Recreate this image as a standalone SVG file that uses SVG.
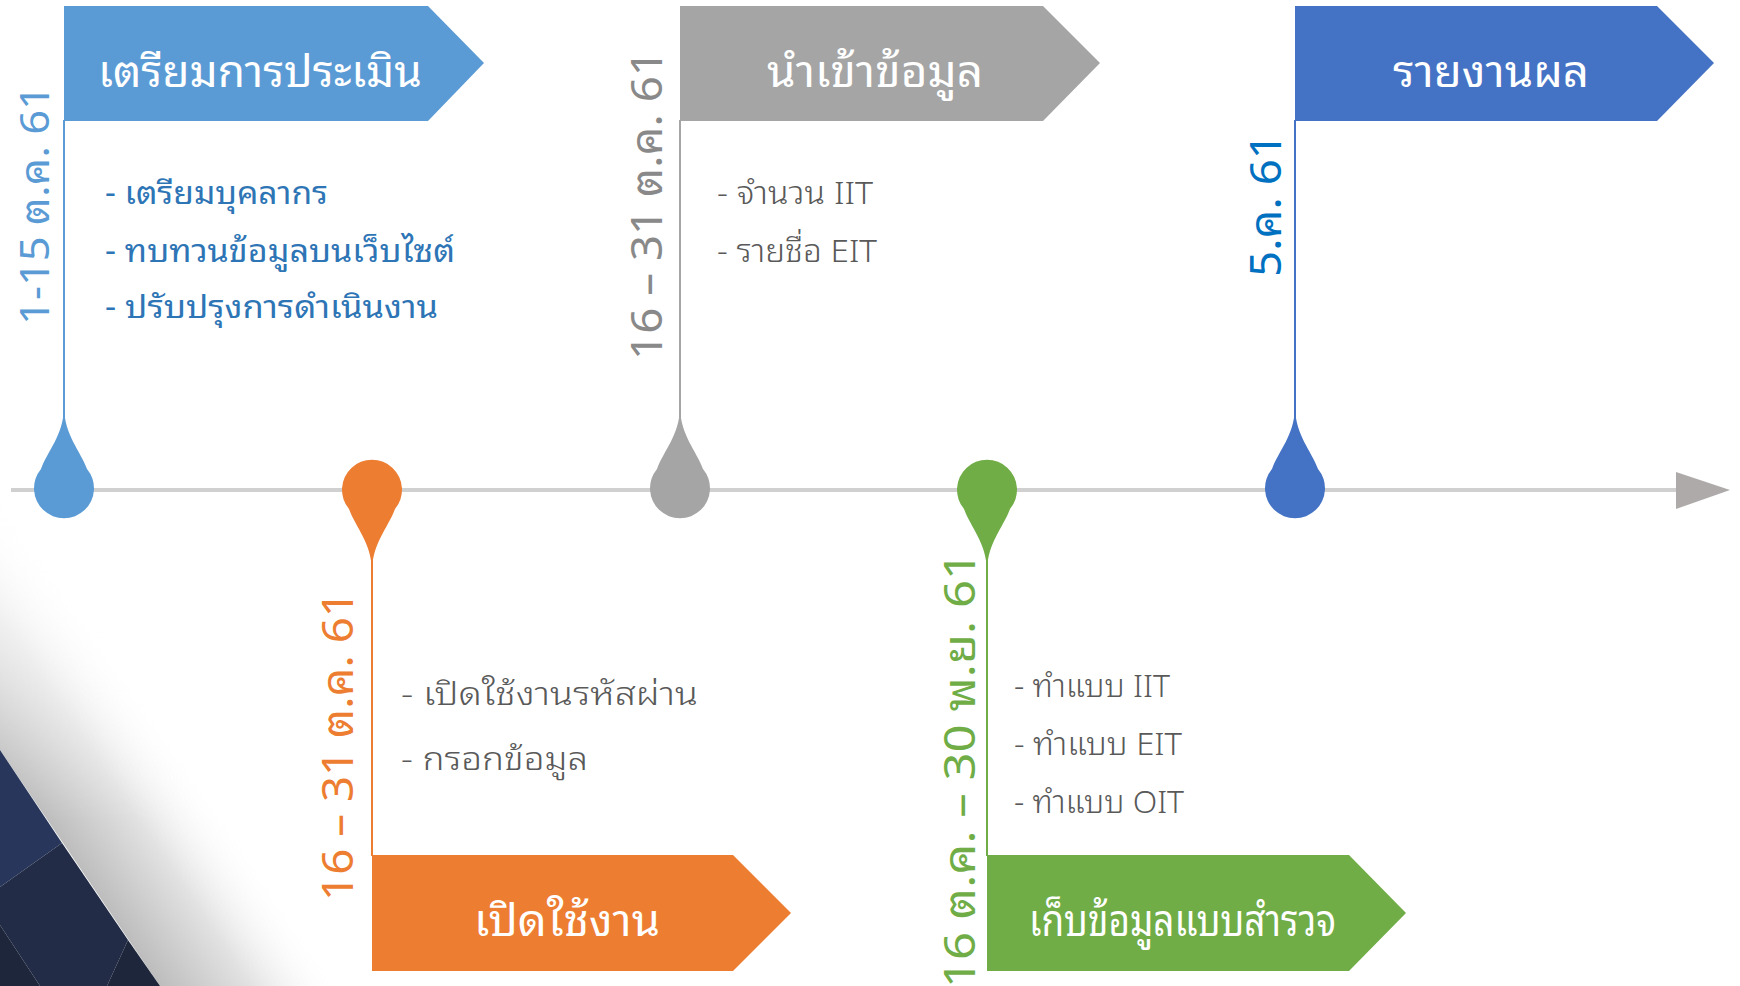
<svg xmlns="http://www.w3.org/2000/svg" width="1740" height="986" viewBox="0 0 1740 986">
<style>
text{font-family:'Noto Sans Thai Looped','Loma','Garuda','Noto Sans Thai','Noto Sans','DejaVu Sans',sans-serif;}
.title{fill:#fff;font-size:44px;}
.bul{font-size:32px;}
.light{font-weight:300;}
.date{font-size:44px;}
.vline{stroke-width:2;fill:none;}
</style>
<defs>
<path id="drop" d="M0,-80 C1,-52 16,-38 23,-19 A30 30 0 1 1 -23,-19 C-16,-38 -1,-52 0,-80 Z"/>
<linearGradient id="shadow" gradientUnits="userSpaceOnUse" x1="80" y1="868" x2="205" y2="783">
<stop offset="0" stop-color="#bdbdbd"/>
<stop offset="0.5" stop-color="#e2e2e2"/>
<stop offset="1" stop-color="#ffffff" stop-opacity="0"/>
</linearGradient>
<linearGradient id="fadeV" gradientUnits="userSpaceOnUse" x1="0" y1="420" x2="0" y2="820">
<stop offset="0" stop-color="#000"/>
<stop offset="1" stop-color="#fff"/>
</linearGradient>
<mask id="fadeMask" maskUnits="userSpaceOnUse" x="0" y="0" width="600" height="986">
<rect x="0" y="0" width="600" height="986" fill="url(#fadeV)"/>
</mask>
</defs>
<rect width="1740" height="986" fill="#fff"/>
<g id="background">
<polygon points="0,750 160,986 460,986 460,400 0,400" fill="url(#shadow)" mask="url(#fadeMask)"/>
<polygon points="0,750 62,843 0,887" fill="#27365a"/>
<polygon points="0,887 62,843 128,940 107,986 40,986 0,925" fill="#222c46"/>
<polygon points="0,925 40,986 0,986" fill="#1e263c"/>
<polygon points="107,986 128,940 160,986" fill="#1e263c"/>
</g>
<g id="connectors">
<line x1="11" y1="490" x2="1680" y2="490" stroke="#d0d0d0" stroke-width="4"/>
<polygon points="1676,472 1730,490 1676,509" fill="#aeaaaa"/>
<line class="vline" x1="64" y1="120" x2="64" y2="420" stroke="#5b9bd5"/>
<line class="vline" x1="680" y1="120" x2="680" y2="420" stroke="#a5a5a5"/>
<line class="vline" x1="1295" y1="120" x2="1295" y2="420" stroke="#4472c4"/>
<line class="vline" x1="372" y1="560" x2="372" y2="856" stroke="#ed7d31"/>
<line class="vline" x1="987" y1="560" x2="987" y2="856" stroke="#70ad47"/>
</g>
<g id="node-prepare">
<polygon points="64,6 428,6 484,63 428,121 64,121" fill="#5b9bd5"/>
<text class="title" x="98" y="87" textLength="324" lengthAdjust="spacingAndGlyphs">เตรียมการประเมิน</text>
<text class="date" transform="translate(49,325) rotate(-90)" fill="#5b9bd5" style="font-size:40px" textLength="240" lengthAdjust="spacingAndGlyphs">1-15 ต.ค. 61</text>
<g class="bul" fill="#2e75b6">
<text x="105" y="204" textLength="223" lengthAdjust="spacingAndGlyphs">- เตรียมบุคลากร</text>
<text x="105" y="262" textLength="350" lengthAdjust="spacingAndGlyphs">- ทบทวนข้อมูลบนเว็บไซต์</text>
<text x="105" y="318" textLength="333" lengthAdjust="spacingAndGlyphs">- ปรับปรุงการดำเนินงาน</text>
</g>
<use href="#drop" transform="translate(64,488)" fill="#5b9bd5"/>
</g>
<g id="node-open">
<polygon points="372,855 733,855 791,913 733,971 372,971" fill="#ed7d31"/>
<text class="title" x="474" y="936" textLength="186" lengthAdjust="spacingAndGlyphs">เปิดใช้งาน</text>
<text class="date" transform="translate(353,901) rotate(-90)" fill="#ed7d31" textLength="310" lengthAdjust="spacingAndGlyphs">16 – 31 ต.ค. 61</text>
<g class="bul light" fill="#595959">
<text x="401" y="705" textLength="297" lengthAdjust="spacingAndGlyphs">- เปิดใช้งานรหัสผ่าน</text>
<text x="401" y="770" textLength="187" lengthAdjust="spacingAndGlyphs">- กรอกข้อมูล</text>
</g>
<use href="#drop" transform="translate(372,490) scale(1,-1)" fill="#ed7d31"/>
</g>
<g id="node-import">
<polygon points="680,6 1043,6 1100,63 1043,121 680,121" fill="#a5a5a5"/>
<text class="title" x="767" y="87" textLength="216" lengthAdjust="spacingAndGlyphs">นำเข้าข้อมูล</text>
<text class="date" transform="translate(662,360) rotate(-90)" fill="#898989" textLength="310" lengthAdjust="spacingAndGlyphs">16 – 31 ต.ค. 61</text>
<g class="bul light" fill="#595959">
<text x="717" y="204" textLength="156" lengthAdjust="spacingAndGlyphs">- จำนวน IIT</text>
<text x="717" y="262" textLength="160" lengthAdjust="spacingAndGlyphs">- รายชื่อ EIT</text>
</g>
<use href="#drop" transform="translate(680,488)" fill="#a5a5a5"/>
</g>
<g id="node-survey">
<polygon points="987,855 1349,855 1406,913 1349,971 987,971" fill="#70ad47"/>
<text class="title" x="1029" y="936" textLength="307" lengthAdjust="spacingAndGlyphs">เก็บข้อมูลแบบสำรวจ</text>
<text class="date" transform="translate(975,988) rotate(-90)" fill="#70ad47" textLength="436" lengthAdjust="spacingAndGlyphs">16 ต.ค. – 30 พ.ย. 61</text>
<g class="bul light" fill="#595959">
<text x="1014" y="697" textLength="156" lengthAdjust="spacingAndGlyphs">- ทำแบบ IIT</text>
<text x="1014" y="755" textLength="168" lengthAdjust="spacingAndGlyphs">- ทำแบบ EIT</text>
<text x="1014" y="813" textLength="170" lengthAdjust="spacingAndGlyphs">- ทำแบบ OIT</text>
</g>
<use href="#drop" transform="translate(987,490) scale(1,-1)" fill="#70ad47"/>
</g>
<g id="node-report">
<polygon points="1295,6 1657,6 1714,63 1657,121 1295,121" fill="#4472c4"/>
<text class="title" x="1393" y="87" textLength="196" lengthAdjust="spacingAndGlyphs">รายงานผล</text>
<text class="date" transform="translate(1281,277) rotate(-90)" fill="#0070c0" textLength="144" lengthAdjust="spacingAndGlyphs">5.ค. 61</text>
<use href="#drop" transform="translate(1295,488)" fill="#4472c4"/>
</g>
</svg>
